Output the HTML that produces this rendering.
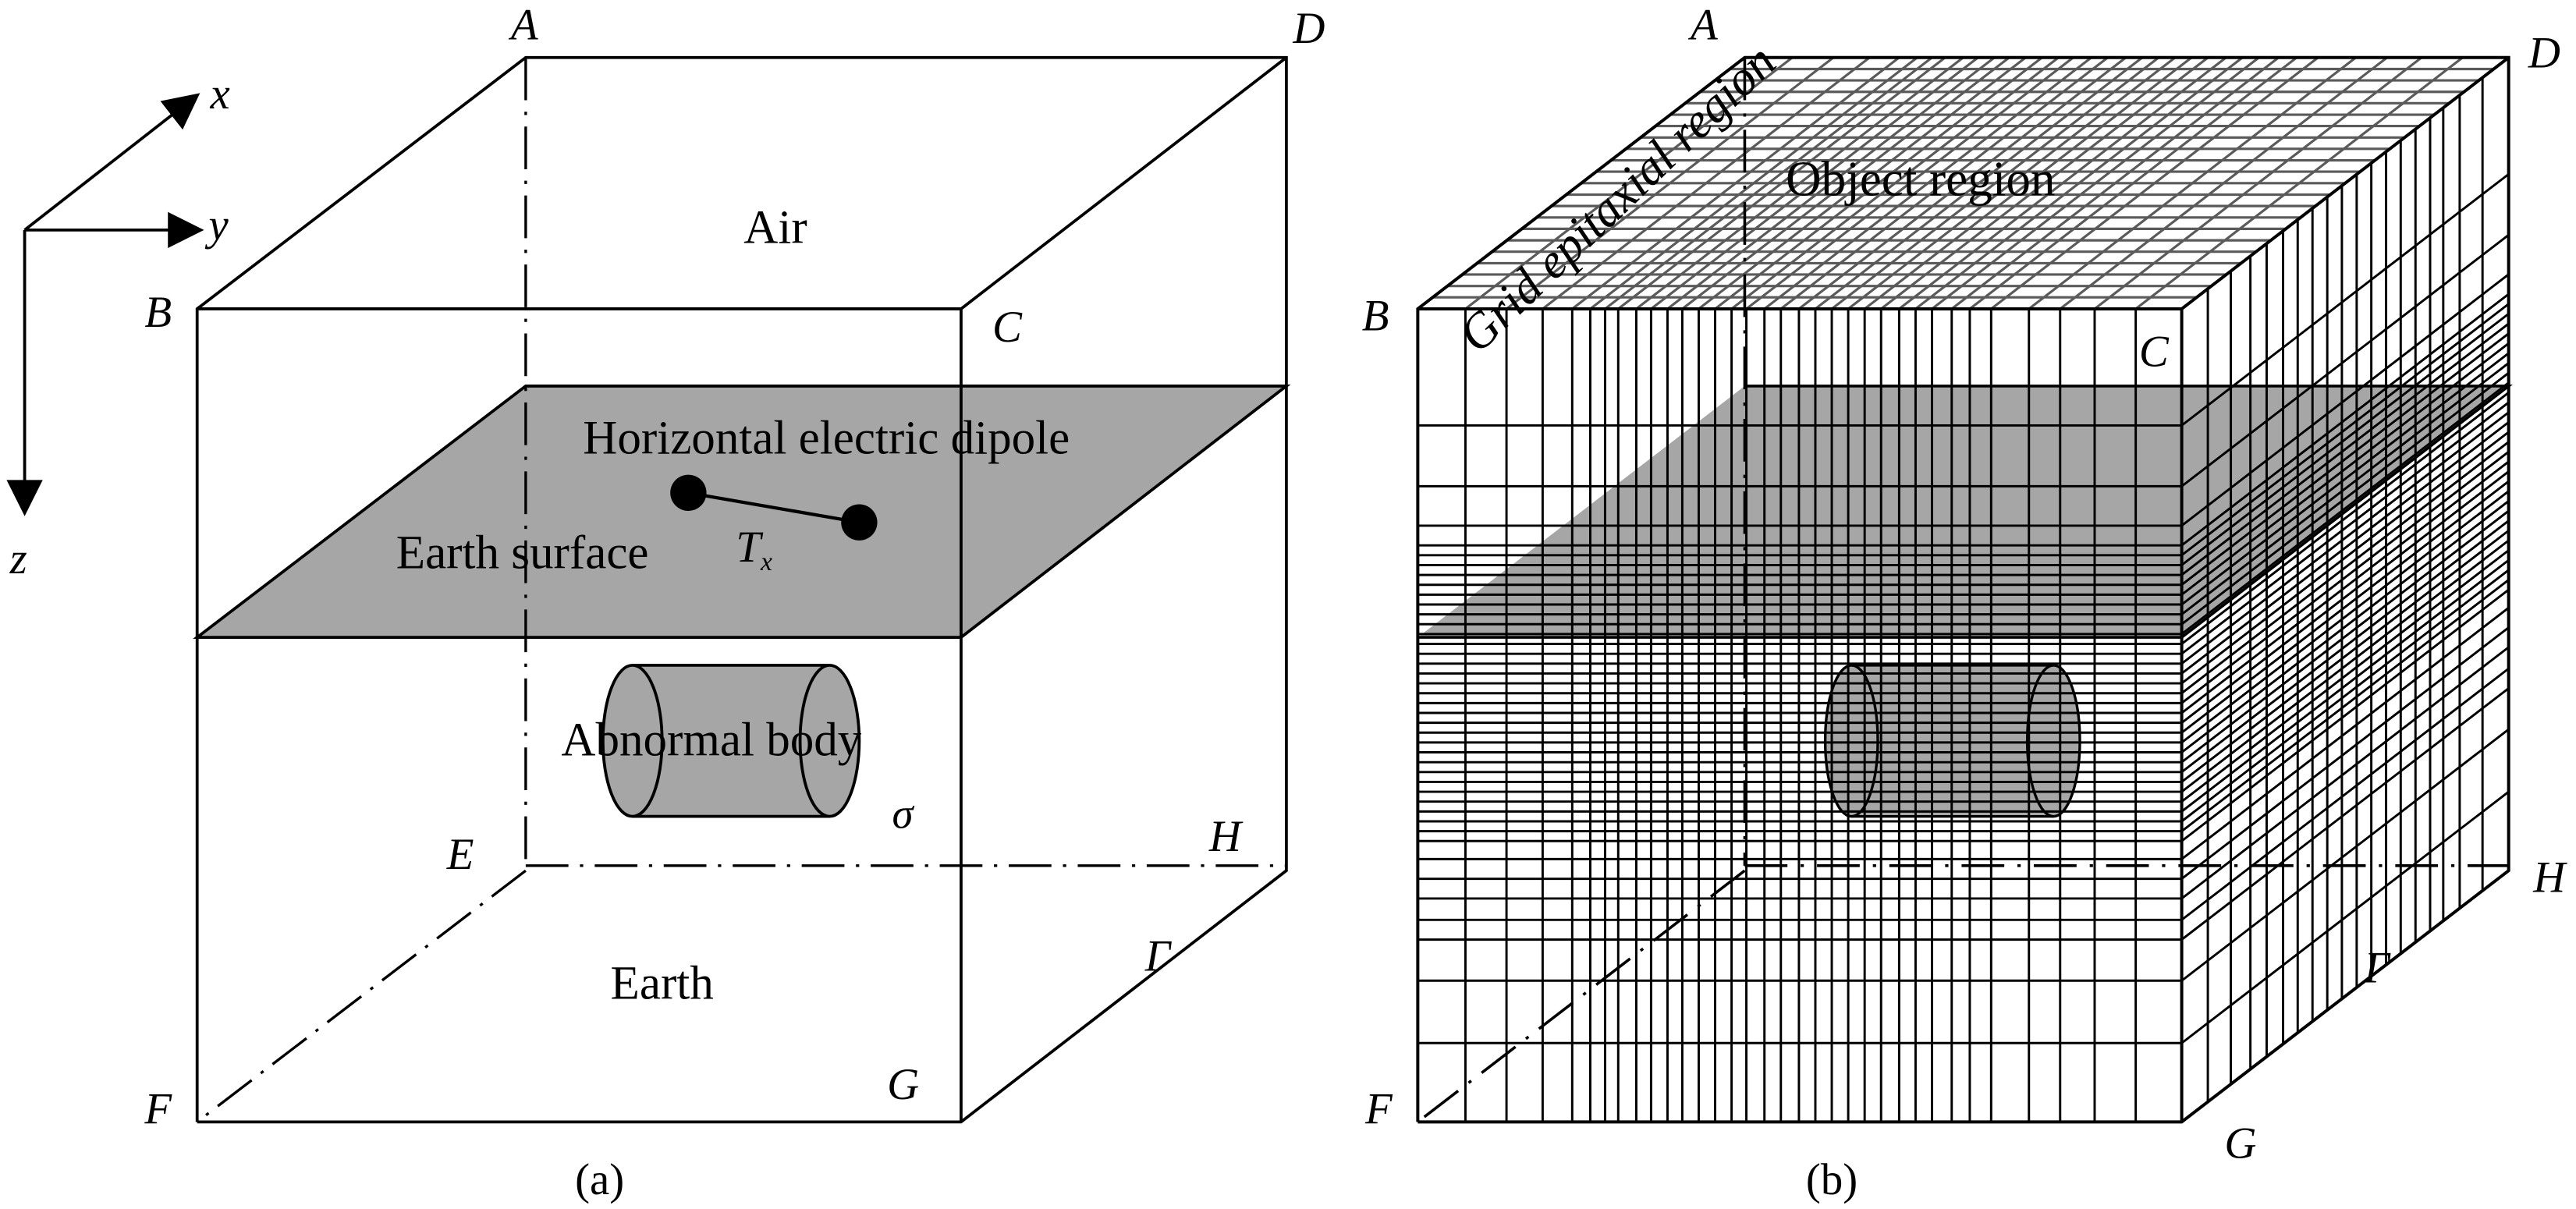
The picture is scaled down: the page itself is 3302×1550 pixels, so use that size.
<!DOCTYPE html>
<html><head><meta charset="utf-8"><style>
html,body{margin:0;padding:0;background:#fff}
svg{display:block}
text{font-family:"Liberation Serif",serif;fill:#000}
.it{font-style:italic}
</style></head><body>
<svg width="3302" height="1550" viewBox="0 0 1568 736" xmlns="http://www.w3.org/2000/svg">
<defs>
<marker id="ah2" viewBox="0 0 10 10" refX="9" refY="5" markerWidth="30" markerHeight="22" markerUnits="userSpaceOnUse" orient="auto"><path d="M0,0 L10,5 L0,10 z" fill="#000"/></marker>
</defs>
<rect width="1568" height="736" fill="#fff"/>

<!-- axes -->
<g stroke="#000" stroke-width="1.8" fill="none">
<line x1="15" y1="140" x2="120" y2="58" marker-end="url(#ah2)"/>
<line x1="15" y1="140" x2="122" y2="140" marker-end="url(#ah2)"/>
<line x1="15" y1="140" x2="15" y2="312" marker-end="url(#ah2)"/>
</g>
<text class="it" x="128" y="66" font-size="27">x</text>
<text class="it" x="127" y="146" font-size="27">y</text>
<text class="it" x="6" y="349" font-size="27">z</text>

<!-- Panel (a) -->
<polygon points="120,388 585,388 783,235 320,235" fill="#a6a6a6" stroke="#000" stroke-width="1.8"/>
<g stroke="#000" stroke-width="1.8" fill="none">
<polyline points="120,683 120,188 320,35 783,35 783,530 585,683 120,683"/>
<polyline points="120,188 585,188 783,35"/>
<line x1="585" y1="188" x2="585" y2="683"/>
</g>
<g stroke="#000" stroke-width="1.6" fill="none" stroke-dasharray="26,7,2,7">
<line x1="320" y1="35" x2="320" y2="530"/>
<line x1="320" y1="527" x2="783" y2="527"/>
<line x1="320" y1="530" x2="120" y2="683"/>
</g>
<rect x="385" y="405" width="120" height="92" fill="#a6a6a6"/>
<g stroke="#000" stroke-width="1.8">
<line x1="385" y1="405" x2="505" y2="405"/><line x1="385" y1="497" x2="505" y2="497"/>
<ellipse cx="385" cy="451" rx="18" ry="46" fill="#a6a6a6"/>
<ellipse cx="505" cy="451" rx="18" ry="46" fill="#a6a6a6"/>
</g>
<line x1="419" y1="300" x2="523" y2="318" stroke="#000" stroke-width="2"/>
<circle cx="419" cy="300" r="11" fill="#000"/><circle cx="523" cy="318" r="11" fill="#000"/>

<text class="it" x="311" y="24" font-size="27">A</text>
<text class="it" x="787" y="26" font-size="27">D</text>
<text class="it" x="88" y="199" font-size="27">B</text>
<text class="it" x="604" y="208" font-size="27">C</text>
<text class="it" x="736" y="518" font-size="27">H</text>
<text class="it" x="272" y="529" font-size="27">E</text>
<text class="it" x="697" y="591" font-size="27">Γ</text>
<text class="it" x="540" y="669" font-size="27">G</text>
<text class="it" x="88" y="684" font-size="27">F</text>
<text x="472" y="148" font-size="29" text-anchor="middle">Air</text>
<text x="503" y="276" font-size="29" text-anchor="middle">Horizontal electric dipole</text>
<text x="318" y="346" font-size="29" text-anchor="middle">Earth surface</text>
<text class="it" x="448" y="342" font-size="27">T<tspan font-size="16" dy="5">x</tspan></text>
<text x="433" y="460" font-size="29" text-anchor="middle">Abnormal body</text>
<text class="it" x="543" y="504" font-size="26">σ</text>
<text x="403" y="608" font-size="29" text-anchor="middle">Earth</text>
<text x="365" y="727" font-size="27" text-anchor="middle">(a)</text>

<!-- Panel (b) -->
<polygon points="863,388 1328,388 1527,235 1062,235" fill="#a6a6a6"/>
<rect x="1127" y="405" width="123" height="92" fill="#a6a6a6"/>
<ellipse cx="1127" cy="451" rx="16" ry="46" fill="#a6a6a6"/>
<ellipse cx="1250" cy="451" rx="16" ry="46" fill="#a6a6a6"/>

<!-- top face gray grid -->
<g stroke="#5a5a5a" stroke-width="1.5" fill="none">
<path d="M892 188l199 -153M917 188l199 -153M939 188l199 -153M957 188l199 -153M968 188l199 -153M977 188l199 -153M985 188l199 -153M996 188l199 -153M1005 188l199 -153M1015 188l199 -153M1024 188l199 -153M1034 188l199 -153M1044 188l199 -153M1054 188l199 -153M1063 188l199 -153M1074 188l199 -153M1084 188l199 -153M1095 188l199 -153M1105 188l199 -153M1115 188l199 -153M1125 188l199 -153M1135 188l199 -153M1145 188l199 -153M1156 188l199 -153M1166 188l199 -153M1176 188l199 -153M1188 188l199 -153M1199 188l199 -153M1212 188l199 -153M1235 188l199 -153M1254 188l199 -153M1275 188l199 -153M1300 188l199 -153"/>
<path d="M872 181h465M881.1 174.1h465M890.1 167.1h465M899.2 160.2h465M908.2 153.2h465M917.3 146.3h465M926.3 139.3h465M935.4 132.4h465M944.4 125.4h465M953.5 118.5h465M962.5 111.5h465M971.5 104.5h465M980.6 97.6h465M989.6 90.6h465M998.7 83.7h465M1007.7 76.7h465M1016.8 69.8h465M1025.8 62.8h465M1034.9 55.9h465M1043.9 48.9h465M1053 42h465"/>
</g>

<g stroke="#000" stroke-width="1.4" fill="none">
<path d="M892 188V683M917 188V683M939 188V683M957 188V683M968 188V683M977 188V683M985 188V683M996 188V683M1005 188V683M1015 188V683M1024 188V683M1034 188V683M1044 188V683M1054 188V683M1063 188V683M1074 188V683M1084 188V683M1095 188V683M1105 188V683M1115 188V683M1125 188V683M1135 188V683M1145 188V683M1156 188V683M1166 188V683M1176 188V683M1188 188V683M1199 188V683M1212 188V683M1235 188V683M1254 188V683M1275 188V683M1300 188V683"/>
<path d="M863 259H1328l199 -153M863 296H1328l199 -153M863 320H1328l199 -153M863 332H1328l199 -153M863 338H1328l199 -153M863 344H1328l199 -153M863 350H1328l199 -153M863 356H1328l199 -153M863 362H1328l199 -153M863 368H1328l199 -153M863 374H1328l199 -153M863 380H1328l199 -153M863 386H1328l199 -153M863 392H1328l199 -153M863 398H1328l199 -153M863 404H1328l199 -153M863 410H1328l199 -153M863 416H1328l199 -153M863 422H1328l199 -153M863 428H1328l199 -153M863 434H1328l199 -153M863 440H1328l199 -153M863 446H1328l199 -153M863 452H1328l199 -153M863 458H1328l199 -153M863 464H1328l199 -153M863 470H1328l199 -153M863 476H1328l199 -153M863 482H1328l199 -153M863 488H1328l199 -153M863 494H1328l199 -153M863 500H1328l199 -153M863 506H1328l199 -153M863 512H1328l199 -153M863 523H1328l199 -153M863 535H1328l199 -153M863 547H1328l199 -153M863 560H1328l199 -153M863 572H1328l199 -153M863 597H1328l199 -153M863 635H1328l199 -153"/>
<path d="M1343.9 175.8V670.8M1357.9 165.1V660.1M1369.8 155.9V650.9M1379.7 148.2V643.2M1389.7 140.6V635.6M1398.6 133.7V628.7M1407.6 126.8V621.8M1416.6 119.9V614.9M1425.5 113V608M1434.5 106.1V601.1M1443.4 99.3V594.3M1452.4 92.4V587.4M1461.3 85.5V580.5M1470.3 78.6V573.6M1479.2 71.7V566.7M1487.2 65.6V560.6M1497.2 57.9V552.9M1511.1 47.2V542.2"/>
</g>
<g stroke="#000" stroke-width="1.7" fill="none">
<polyline points="863,388 1328,388 1527,235 1062,235"/>
</g>
<g stroke="#000" stroke-width="1.7" fill="none" stroke-dasharray="26,8,2,8">
<line x1="1062" y1="35" x2="1062" y2="527"/>
<line x1="1062" y1="527" x2="1527" y2="527"/>
<line x1="1062" y1="530" x2="863" y2="683"/>
</g>
<g stroke="#000" stroke-width="1.6" fill="none">
<line x1="1127" y1="405" x2="1250" y2="405"/><line x1="1127" y1="497" x2="1250" y2="497"/>
<ellipse cx="1127" cy="451" rx="16" ry="46"/>
<ellipse cx="1250" cy="451" rx="16" ry="46"/>
</g>
<g stroke="#000" stroke-width="1.9" fill="none">
<polyline points="863,683 863,188 1062,35 1527,35 1527,530 1328,683 863,683"/>
<polyline points="863,188 1328,188 1527,35"/>
<line x1="1328" y1="188" x2="1328" y2="683"/>
</g>

<text class="it" x="1029" y="24" font-size="27">A</text>
<text class="it" x="1539" y="41" font-size="27">D</text>
<text class="it" x="829" y="201" font-size="27">B</text>
<text class="it" x="1302" y="223" font-size="27">C</text>
<text class="it" x="1542" y="543" font-size="27">H</text>
<text class="it" x="1439" y="598" font-size="27">Γ</text>
<text class="it" x="1354" y="705" font-size="27">G</text>
<text class="it" x="831" y="684" font-size="27">F</text>
<text x="1169" y="119" font-size="30" text-anchor="middle">Object region</text>
<text class="it" x="0" y="0" font-size="30" transform="translate(900,216) rotate(-44)">Grid epitaxial region</text>
<text x="1115" y="727" font-size="27" text-anchor="middle">(b)</text>
</svg>
</body></html>
